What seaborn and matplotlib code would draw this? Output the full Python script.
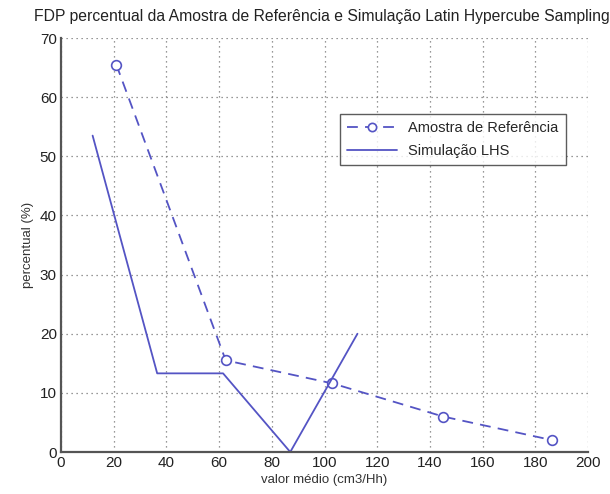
import matplotlib
matplotlib.use("Agg")
import matplotlib.pyplot as plt
import seaborn as sns
import pandas as pd

# Reference sample (dashed line with circle markers)
ref_x = [21, 62.5, 103, 145, 186.5]
ref_y = [65.5, 15.5, 11.6, 6.0, 2.0]

# LHS simulation (solid line)
lhs_x = [12, 36.5, 61.5, 87, 112.5]
lhs_y = [53.5, 13.3, 13.3, 0.0, 20.0]

title = "FDP percentual da Amostra de Referência e Simulação Latin Hypercube Sampling"
xlabel = "valor médio (cm3/Hh)"
ylabel = "percentual (%)"
xticks = list(range(0, 201, 20))
yticks = list(range(0, 71, 10))

sns.set_style("white")
plt.rcParams["font.family"] = ["Liberation Sans", "DejaVu Sans"]

fig = plt.figure(figsize=(6.1, 4.94), dpi=100)
ax = fig.add_axes([0.1, 0.085, 0.864, 0.838])

line_color = "#5454c4"
ref_df = pd.DataFrame({"x": ref_x, "y": ref_y})
lhs_df = pd.DataFrame({"x": lhs_x, "y": lhs_y})

sns.lineplot(data=ref_df, x="x", y="y", ax=ax, color=line_color, lw=1.3,
             linestyle=(0, (6, 4)), marker="o", markersize=7,
             markerfacecolor="white", markeredgecolor=line_color,
             markeredgewidth=1.2, label="Amostra de Referência", sort=False)
sns.lineplot(data=lhs_df, x="x", y="y", ax=ax, color=line_color, lw=1.3,
             label="Simulação LHS", sort=False)

ax.set_xlim(0, 200)
ax.set_ylim(0, 70)
ax.set_xticks(xticks)
ax.set_yticks(yticks)
ax.grid(True, linestyle=(0, (1, 3)), color="#777777", lw=0.9)
for side in ("top", "right"):
    ax.spines[side].set_visible(False)
for side in ("left", "bottom"):
    ax.spines[side].set_color("#555555")
    ax.spines[side].set_linewidth(1.6)
ax.tick_params(axis="both", direction="in", length=4, width=1,
               colors="#444444", labelsize=11, labelcolor="#222222", pad=3)

ax.set_xlabel(xlabel, fontsize=9.5, color="#333333", labelpad=3)
ax.set_ylabel(ylabel, fontsize=9.5, color="#333333", labelpad=4)
ax.text(0.527, 0.958, title, transform=fig.transFigure, ha="center", va="baseline",
        fontsize=11.3, color="#222222")

leg = ax.legend(loc="upper left", bbox_to_anchor=(0.515, 0.835), fontsize=10.5,
                frameon=True, fancybox=False, edgecolor="#333333",
                handlelength=3.4, borderpad=0.5, labelspacing=0.6,
                markerscale=0.85)
leg.get_frame().set_linewidth(1.0)

fig.savefig("out.png", dpi=100)
